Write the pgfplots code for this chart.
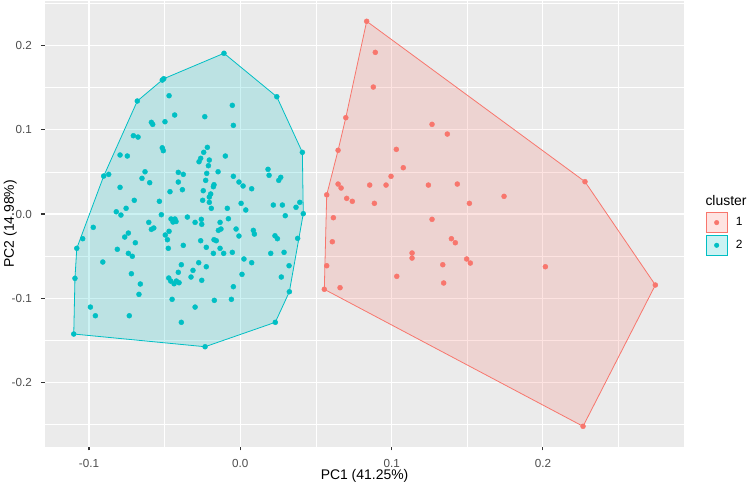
\documentclass[border=0pt]{standalone}
\usepackage{pgfplots}
\pgfplotsset{compat=1.18}
\usepackage{pgfplotstable}
\usepackage{fontspec}
\setmainfont{Liberation Sans}
\definecolor{gcyan}{HTML}{00BFC4}
\definecolor{gred}{HTML}{F8766D}
\definecolor{panel}{HTML}{EBEBEB}
\definecolor{gray30}{HTML}{4D4D4D}
\definecolor{gray20}{HTML}{333333}

\pgfplotstableread{
x y
0.0835 0.2289
0.0892 0.1920
0.0879 0.1508
0.0697 0.1144
0.1267 0.1065
0.1368 0.0950
0.0646 0.0757
0.1031 0.0768
0.1077 0.0550
0.0996 0.0448
0.0646 0.0356
0.0666 0.0309
0.0855 0.0344
0.0963 0.0344
0.1243 0.0344
0.1434 0.0356
0.0571 0.0228
0.1743 0.0210
0.0703 0.0186
0.0740 0.0151
0.0886 0.0127
0.1514 0.0127
0.0615 -0.0044
0.1267 -0.0063
0.0608 -0.0329
0.1395 -0.0293
0.1421 -0.0341
0.1135 -0.0463
0.1135 -0.0523
0.1496 -0.0534
0.1520 -0.0582
0.1338 -0.0602
0.2016 -0.0626
0.0571 -0.0614
0.1034 -0.0740
0.1344 -0.0819
0.0555 -0.0894
0.0659 -0.0875
0.2278 0.0384
0.2743 -0.0843
0.2265 -0.2521
}\redpts

\pgfplotstableread{
x y
-0.0506 0.1607
-0.0516 0.1591
-0.0471 0.1405
-0.0681 0.1342
-0.0434 0.1176
-0.0588 0.1089
-0.0579 0.1065
-0.0498 0.1096
-0.0707 0.0930
-0.0676 0.0914
-0.0516 0.0787
-0.0509 0.0752
-0.0795 0.0701
-0.0747 0.0689
-0.0630 0.0502
-0.0903 0.0451
-0.0870 0.0471
-0.0650 0.0424
-0.0599 0.0372
-0.0410 0.0495
-0.0377 0.0471
-0.0410 0.0380
-0.0795 0.0317
-0.0465 0.0265
-0.0383 0.0289
-0.0108 0.1909
0.0241 0.1393
0.0410 0.0733
-0.0053 0.1291
-0.0235 0.1156
-0.0046 0.1053
-0.0218 0.0792
-0.0242 0.0733
-0.0262 0.0662
-0.0273 0.0621
-0.0205 0.0641
-0.0099 0.0689
-0.0211 0.0574
-0.0222 0.0483
-0.0147 0.0502
-0.0229 0.0400
-0.0046 0.0448
-0.0009 0.0380
0.0018 0.0333
-0.0174 0.0348
-0.0178 0.0324
0.0075 0.0300
0.0183 0.0531
0.0190 0.0460
0.0267 0.0436
0.0254 0.0400
-0.0245 0.0277
-0.0196 0.0238
-0.0205 0.0202
-0.0701 0.0163
-0.0535 0.0151
-0.0820 0.0027
-0.0789 -0.0012
-0.0755 0.0068
-0.0522 -0.0008
-0.0458 -0.0059
-0.0432 -0.0059
-0.0445 -0.0095
-0.0425 -0.0089
-0.0350 -0.0036
-0.0605 -0.0099
-0.0588 -0.0182
-0.0572 -0.0166
-0.0471 -0.0205
-0.0972 -0.0158
-0.0740 -0.0226
-0.0764 -0.0273
-0.0496 -0.0249
-0.0482 -0.0305
-0.1042 -0.0293
-0.1081 -0.0407
-0.0694 -0.0341
-0.0813 -0.0419
-0.0476 -0.0407
-0.0377 -0.0372
-0.0740 -0.0467
-0.0714 -0.0502
-0.0909 -0.0570
-0.0390 -0.0602
-0.0410 -0.0692
-0.0720 -0.0709
-0.0473 -0.0760
-0.0460 -0.0796
-0.0438 -0.0828
-0.0423 -0.0796
-0.0405 -0.0816
-0.1093 -0.0764
-0.0661 -0.0831
-0.0670 -0.0954
-0.0451 -0.1013
-0.0991 -0.1105
-0.0958 -0.1208
-0.0734 -0.1208
-0.0390 -0.1286
-0.1101 -0.1425
-0.0249 0.0163
-0.0205 0.0139
-0.0192 0.0068
0.0005 0.0127
-0.0086 0.0068
0.0036 0.0048
-0.0299 -0.0099
-0.0258 -0.0063
-0.0255 -0.0122
-0.0134 -0.0099
-0.0079 -0.0056
-0.0145 -0.0194
-0.0128 -0.0178
-0.0028 -0.0178
-0.0009 -0.0261
0.0086 -0.0194
0.0093 -0.0238
0.0218 0.0107
0.0278 0.0107
0.0368 0.0080
0.0393 0.0139
0.0416 0.0004
0.0297 -0.0020
0.0229 -0.0258
0.0245 -0.0293
0.0379 -0.0289
-0.0262 -0.0317
-0.0174 -0.0305
-0.0159 -0.0317
-0.0225 -0.0395
-0.0134 -0.0407
-0.0178 -0.0467
-0.0110 -0.0467
-0.0053 -0.0455
0.0201 -0.0467
0.0289 -0.0455
0.0024 -0.0534
0.0075 -0.0578
-0.0275 -0.0578
-0.0225 -0.0626
-0.0313 -0.0669
-0.0326 -0.0748
-0.0255 -0.0787
0.0011 -0.0716
0.0322 -0.0614
0.0271 -0.0748
-0.0046 -0.0863
0.0324 -0.0923
-0.0172 -0.1025
-0.0059 -0.1013
-0.0299 -0.1105
0.0231 -0.1286
-0.0233 -0.1576
}\cyanpts

\begin{document}
\begin{tikzpicture}
\path[use as bounding box] (0,0) rectangle (749bp,484bp);
\begin{axis}[
  at={(44.7bp,37.4bp)}, anchor=south west,
  width=639.7bp, height=445.6bp, scale only axis,
  xmin=-0.1293, xmax=0.2935, ymin=-0.2762, ymax=0.2530,
  axis background/.style={fill=panel},
  axis line style={draw=none},
  xtick={-0.1,0,0.1,0.2}, xticklabels={-0.1,0.0,0.1,0.2},
  ytick={-0.2,-0.1,0,0.1,0.2}, yticklabels={-0.2,-0.1,0.0,0.1,0.2},
  minor xtick={-0.05,0.05,0.15,0.25},
  minor ytick={-0.25,-0.15,-0.05,0.05,0.15,0.25},
  grid=both,
  major grid style={draw=white, line width=1.07bp},
  minor grid style={draw=white, line width=0.53bp},
  xtick pos=left, ytick pos=left,
  tick align=outside, major tick length=3.7bp, minor tick length=0pt,
  major tick style={draw=gray20, line width=1.07bp},
  xticklabel style={font=\fontsize{11.7}{13}\selectfont, text=gray30, anchor=base, inner sep=0pt, yshift=-16.7bp},
  yticklabel style={font=\fontsize{11.7}{13}\selectfont, text=gray30, anchor=east, inner sep=0pt, xshift=-9bp},
  xlabel={PC1 (41.25\%)}, ylabel={PC2 (14.98\%)},
  xlabel style={font=\fontsize{14}{16}\selectfont, at={(axis description cs:0.5,-0.0734)}, anchor=base, inner sep=0pt},
  ylabel style={font=\fontsize{14}{16}\selectfont, at={(axis description cs:-0.048,0.5)}, anchor=base, inner sep=0pt},
  legend style={at={(axis description cs:1.0338,0.5265)}, anchor=north west, draw=none, fill=none, inner sep=0pt, outer sep=0pt, row sep=1.5bp, font=\fontsize{12}{14}\selectfont, nodes={inner sep=0pt},
    /tikz/every odd column/.append style={column sep=8.5bp}},
  legend cell align=left,
  clip=false,
]
\addplot[forget plot, draw=gred, line width=0.8bp, fill=gred, fill opacity=0.2, draw opacity=1] coordinates {
(0.0835,0.2289) (0.2278,0.0384) (0.2743,-0.0843) (0.2265,-0.2521) (0.0555,-0.0894) (0.0571,0.0228) (0.0646,0.0757) (0.0697,0.1144)} -- cycle;
\addplot[forget plot, draw=gcyan, line width=0.8bp, fill=gcyan, fill opacity=0.2, draw opacity=1] coordinates {
(-0.0108,0.1909) (0.0241,0.1393) (0.0410,0.0733) (0.0416,0.0004) (0.0324,-0.0923) (0.0231,-0.1286) (-0.0233,-0.1576) (-0.1101,-0.1425) (-0.1093,-0.0764) (-0.1081,-0.0407) (-0.0903,0.0451) (-0.0681,0.1342) (-0.0506,0.1607)} -- cycle;
\addplot[forget plot, only marks, mark=*, mark size=2.5bp, color=gred] table[x=x,y=y] {\redpts};
\addplot[forget plot, only marks, mark=*, mark size=2.5bp, color=gcyan] table[x=x,y=y] {\cyanpts};
\addlegendimage{legend image code/.code={
  \draw[draw=gred, line width=0.8bp, fill=gred, fill opacity=0.2, draw opacity=1] (0bp,-10.2bp) rectangle (20.5bp,10.2bp);
  \fill[gred] (10.25bp,0bp) circle (2.3bp);}}
\addlegendentry{1}
\addlegendimage{legend image code/.code={
  \draw[draw=gcyan, line width=0.8bp, fill=gcyan, fill opacity=0.2, draw opacity=1] (0bp,-10.2bp) rectangle (20.5bp,10.2bp);
  \fill[gcyan] (10.25bp,0bp) circle (2.3bp);}}
\addlegendentry{2}
\node[anchor=base west, inner sep=0pt, font=\fontsize{14}{16}\selectfont] at (axis description cs:1.0327,0.5411) {cluster};
\end{axis}
\end{tikzpicture}
\end{document}
